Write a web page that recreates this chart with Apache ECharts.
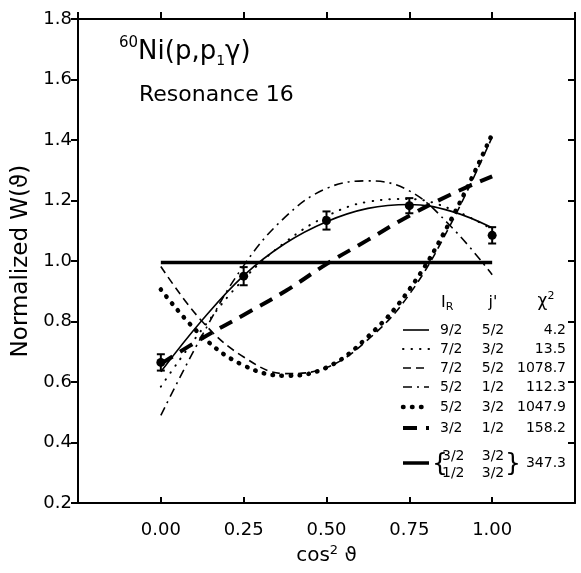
<!DOCTYPE html>
<html>
<head>
<meta charset="utf-8">
<script src="https://cdn.jsdelivr.net/npm/echarts@6/dist/echarts.min.js"></script>
<style>
  html, body { margin: 0; padding: 0; background: #fff; }
  #chart { width: 581px; height: 573px; }
</style>
</head>
<body>
<div id="chart"></div>
<script>
// cos^2 theta sample positions
const cos2 = [0, 0.125, 0.25, 0.375, 0.5, 0.625, 0.75, 0.875, 1.0]

// fitted W(theta), one array per (I_R, j') combination
const fit92_52 = [0.634, 0.805, 0.952, 1.058, 1.130, 1.174, 1.187, 1.165, 1.110]
const fit72_32 = [0.585, 0.775, 0.940, 1.062, 1.148, 1.196, 1.205, 1.172, 1.105]
const fit72_52 = [0.982, 0.800, 0.683, 0.628, 0.648, 0.740, 0.890, 1.122, 1.410]
const fit52_12 = [0.490, 0.755, 0.985, 1.145, 1.240, 1.265, 1.232, 1.115, 0.955]
const fit52_32 = [0.906, 0.751, 0.655, 0.621, 0.648, 0.750, 0.906, 1.135, 1.420]
const fit32_12 = [0.660, 0.745, 0.822, 0.900, 0.990, 1.070, 1.150, 1.220, 1.280]
const isoX = [0, 1.0]
const isoW = [0.995, 0.995]

// measured points with errors
const measX = [0, 0.25, 0.5, 0.75, 1.0]
const measW = [0.665, 0.950, 1.134, 1.183, 1.085]
const measErr = [0.027, 0.030, 0.030, 0.025, 0.027]

// legend table
const legIR = ['9/2', '7/2', '7/2', '5/2', '5/2', '3/2']
const legJ = ['5/2', '3/2', '5/2', '1/2', '3/2', '1/2']
const legChi = ['4.2', '13.5', '1078.7', '112.3', '1047.9', '158.2']
const legLastIR = ['3/2', '1/2']
const legLastJ = ['3/2', '3/2']
const legLastChi = '347.3'

const FONT = '"DejaVu Sans", sans-serif'

const pairs = (xs, ys) => xs.map((x, i) => [x, ys[i]])

// line looks, shared by the curves and the legend samples
const looks = [
  { width: 1.6, dash: null, cap: 'butt' },
  { width: 2, dash: [0.5, 8], cap: 'round' },
  { width: 1.6, dash: [8, 5], cap: 'butt' },
  { width: 1.6, dash: [9, 5, 2, 5], cap: 'butt' },
  { width: 4.5, dash: [0.5, 8.5], cap: 'round' },
  { width: 4, dash: [14, 9], cap: 'butt' },
  { width: 3.5, dash: null, cap: 'butt' }
]
const fits = [fit92_52, fit72_32, fit72_52, fit52_12, fit52_32, fit32_12]

const chart = echarts.init(document.getElementById('chart'))

const lineSeries = fits.map((ys, i) => ({
  type: 'line',
  data: pairs(cos2, ys),
  smooth: 0.4,
  symbol: 'none',
  silent: true,
  lineStyle: {
    color: '#000',
    width: looks[i].width,
    type: looks[i].dash || 'solid',
    cap: looks[i].cap
  }
}))
lineSeries.push({
  type: 'line',
  data: pairs(isoX, isoW),
  symbol: 'none',
  silent: true,
  lineStyle: { color: '#000', width: looks[6].width }
})

// measured points with error bars
lineSeries.push({
  type: 'custom',
  data: measX.map((x, i) => [x, measW[i], measErr[i]]),
  z: 10,
  renderItem: (params, api) => {
    const x = api.value(0)
    const y = api.value(1)
    const e = api.value(2)
    const c = api.coord([x, y])
    const t = api.coord([x, y + e])
    const b = api.coord([x, y - e])
    const st = { stroke: '#000', lineWidth: 2 }
    return {
      type: 'group',
      children: [
        { type: 'line', shape: { x1: c[0], y1: t[1], x2: c[0], y2: b[1] }, style: st },
        { type: 'line', shape: { x1: c[0] - 4, y1: t[1], x2: c[0] + 4, y2: t[1] }, style: st },
        { type: 'line', shape: { x1: c[0] - 4, y1: b[1], x2: c[0] + 4, y2: b[1] }, style: st },
        { type: 'circle', shape: { cx: c[0], cy: c[1], r: 4.5 }, style: { fill: '#000' } }
      ]
    }
  }
})

// legend table (graphic)
const rowY = [330, 349, 368, 387, 407, 428]
const txt = (text, x, y, align, size) => ({
  type: 'text',
  style: {
    text, x, y, align: align || 'left', verticalAlign: 'middle',
    font: (size || 14) + 'px ' + FONT, fill: '#000'
  }
})
const sample = (y, i) => ({
  type: 'line',
  shape: { x1: 403, y1: y, x2: 429, y2: y },
  style: {
    stroke: '#000', lineWidth: looks[i].width,
    lineDash: looks[i].dash, lineCap: looks[i].cap
  }
})
const legend = []
legend.push({
  type: 'text',
  style: {
    text: '{a|I}{s|R}', x: 441, y: 303, verticalAlign: 'middle', fill: '#000',
    rich: {
      a: { font: '16px ' + FONT, lineHeight: 20 },
      s: { font: '11px ' + FONT, lineHeight: 11, verticalAlign: 'bottom' }
    }
  }
})
legend.push(txt("j'", 493, 303, 'center', 16))
legend.push({
  type: 'text',
  style: {
    text: '{a|χ}{s|2}', x: 546, y: 302, align: 'center', verticalAlign: 'middle', fill: '#000',
    rich: {
      a: { font: '17px ' + FONT, lineHeight: 22 },
      s: { font: '11px ' + FONT, lineHeight: 11, verticalAlign: 'top' }
    }
  }
})
legIR.forEach((v, i) => {
  legend.push(sample(rowY[i], i))
  legend.push(txt(v, 440, rowY[i], 'left'))
  legend.push(txt(legJ[i], 493, rowY[i], 'center'))
  legend.push(txt(legChi[i], 566, rowY[i], 'right'))
})
legend.push(sample(463, 6))
legend.push(txt('{', 432, 464, 'left', 25))
legend.push(txt('}', 505, 464, 'left', 25))
legLastIR.forEach((v, i) => {
  legend.push(txt(v, 442, 456 + i * 17, 'left'))
  legend.push(txt(legLastJ[i], 493, 456 + i * 17, 'center'))
})
legend.push(txt(legLastChi, 566, 463, 'right'))

// title text inside the plot
legend.push({
  type: 'text',
  style: {
    text: '{u|60}{m|Ni(p,p}{d|1}{m|γ)}', x: 119, y: 52, verticalAlign: 'middle', fill: '#000',
    rich: {
      u: { font: '15px ' + FONT, lineHeight: 15, verticalAlign: 'top' },
      m: { font: '26px ' + FONT, lineHeight: 32 },
      d: { font: '14px ' + FONT, lineHeight: 14, verticalAlign: 'bottom' }
    }
  }
})
legend.push(txt('Resonance 16', 139, 95, 'left', 22))

const baseAxisX = {
  type: 'value', min: -0.25, max: 1.25, interval: 0.25,
  axisLine: { show: true, onZero: false, lineStyle: { color: '#000', width: 2 } },
  splitLine: { show: false }
}
const baseAxisY = {
  type: 'value', min: 0.2, max: 1.8, interval: 0.2,
  axisLine: { show: true, onZero: false, lineStyle: { color: '#000', width: 2 } },
  splitLine: { show: false }
}

const option = {
  animation: false,
  backgroundColor: '#fff',
  grid: { left: 78, right: 6, top: 19, bottom: 63 },
  xAxis: [
    Object.assign({}, baseAxisX, {
      position: 'bottom',
      axisTick: { inside: true, length: 6, lineStyle: { color: '#000', width: 2 } },
      axisLabel: {
        margin: 18, fontSize: 18, fontFamily: FONT, color: '#000',
        formatter: v => (v < -0.01 || v > 1.01) ? '' : v.toFixed(2)
      },
      name: 'cos{s|2} ϑ',
      nameLocation: 'middle',
      nameGap: 38,
      nameTextStyle: {
        fontSize: 20, fontFamily: FONT, color: '#000', lineHeight: 24,
        rich: { s: { fontSize: 13, fontFamily: FONT, lineHeight: 13, verticalAlign: 'top' } }
      }
    }),
    Object.assign({}, baseAxisX, {
      position: 'top',
      axisTick: { inside: false, length: 7, lineStyle: { color: '#000', width: 2 } },
      axisLabel: { show: false }
    })
  ],
  yAxis: [
    Object.assign({}, baseAxisY, {
      position: 'left',
      axisTick: { inside: false, length: 7, lineStyle: { color: '#000', width: 2 } },
      axisLabel: {
        margin: 6, fontSize: 18, fontFamily: FONT, color: '#000',
        formatter: v => v.toFixed(1)
      },
      name: 'Normalized W(ϑ)',
      nameLocation: 'middle',
      nameGap: 44,
      nameTextStyle: { fontSize: 23, fontFamily: FONT, color: '#000' }
    }),
    Object.assign({}, baseAxisY, {
      position: 'right',
      axisTick: { inside: true, length: 7, lineStyle: { color: '#000', width: 2 } },
      axisLabel: { show: false }
    })
  ],
  series: lineSeries,
  graphic: legend
}

chart.setOption(option)
</script>
</body>
</html>
